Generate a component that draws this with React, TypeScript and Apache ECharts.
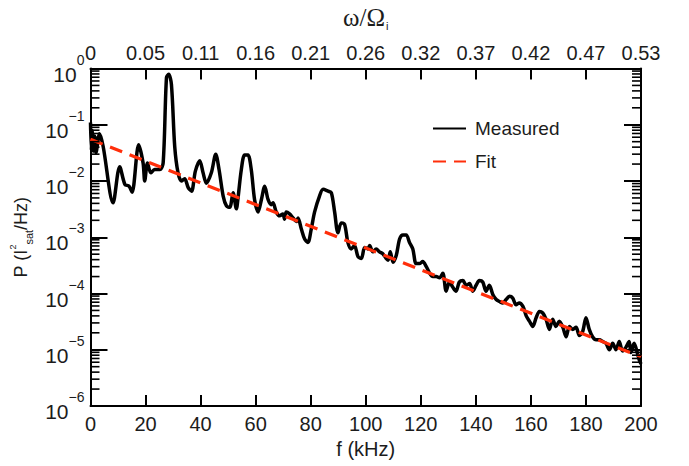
import React, { useEffect, useRef } from "react";
import * as echarts from "echarts";

// Measured spectrum (frequency in kHz, power in I_sat^2/Hz)
const freq = [
  0, 0.3, 0.6, 1.0, 1.5, 2.0, 3.3, 4.6, 8.2, 10.6, 12.5, 14.0, 15.1, 17.5, 19.1, 19.7, 20.7, 21.9, 23.3, 25.2,
  26.4, 27.6, 28.4, 29.4, 30.6, 31.8, 33.0, 34.2, 35.5, 36.7, 38.1, 39.7, 40.9, 42.1, 43.9, 45.5, 46.7, 48.2, 49.4,
  50.6, 51.8, 53.0, 53.6, 54.8, 56.0, 57.2, 58.4, 59.6, 60.9, 62.1, 63.3, 64.5, 65.7, 66.3, 67.5, 68.7, 69.9, 70.5,
  71.1, 72.3, 73.6, 74.8, 75.4, 76.6, 77.8, 79.0, 80.2, 81.4, 83.2, 84.5, 86.3, 87.5, 88.7, 89.9, 91.1, 92.3, 93.5,
  94.7, 95.9, 97.2, 98.4, 99.6, 100.8, 101.4, 102.6, 103.8, 105.0, 106.2, 107.4, 108.1, 108.9, 109.9, 111.1, 112.3,
  113.5, 114.7, 115.9, 117.1, 118.3, 119.5, 120.7, 122.0, 123.2, 124.4, 125.6, 126.8, 128.0, 129.2, 130.4, 131.6,
  132.8, 134.0, 135.3, 136.5, 137.7, 138.9, 140.1, 141.3, 142.5, 143.7, 144.9, 146.2, 147.4, 148.6, 149.8, 151.0,
  152.2, 153.4, 154.6, 155.8, 157.1, 158.3, 159.5, 160.7, 161.9, 163.1, 164.3, 165.5, 166.7, 167.9, 169.1, 170.3,
  171.6, 172.8, 174.0, 175.2, 176.4, 177.6, 178.8, 180.0, 181.2, 182.4, 183.7, 184.9, 186.1, 187.3, 188.5, 189.7,
  190.9, 192.1, 193.3, 194.5, 195.7, 196.3, 197.5, 198.8, 199.4, 200,
];
const power = [
  1.1e-1, 3.5e-2, 7.9e-2, 3.4e-2, 6.3e-2, 3.2e-2, 6.9e-2, 4.1e-2, 4.1e-3, 1.8e-2, 8.7e-3, 8.1e-3, 6.3e-3, 4.4e-2,
  2.1e-2, 1.0e-2, 2.1e-2, 1.4e-2, 1.6e-2, 1.6e-2, 2.1e-2, 6.9e-1, 7.9e-1, 5.2e-1, 4.1e-2, 1.4e-2, 1.0e-2, 1.1e-2,
  7.6e-3, 6.6e-3, 1.5e-2, 2.3e-2, 1.4e-2, 9.1e-3, 1.4e-2, 3.0e-2, 1.6e-2, 5.4e-3, 3.6e-3, 3.4e-3, 6.2e-3, 3.2e-3,
  5.0e-3, 1.6e-2, 2.9e-2, 2.9e-2, 1.6e-2, 4.7e-3, 2.8e-3, 4.7e-3, 8.1e-3, 4.7e-3, 3.8e-3, 4.1e-3, 2.8e-3, 2.4e-3,
  2.6e-3, 2.1e-3, 2.8e-3, 2.6e-3, 2.2e-3, 1.9e-3, 2.2e-3, 1.4e-3, 9.3e-4, 8.1e-4, 1.4e-3, 2.8e-3, 5.4e-3, 7.1e-3,
  6.6e-3, 6.2e-3, 2.8e-3, 1.2e-3, 1.8e-3, 1.7e-3, 8.1e-4, 6.2e-4, 7.1e-4, 4.5e-4, 4.2e-4, 6.6e-4, 6.2e-4, 7.1e-4,
  5.5e-4, 6.2e-4, 5.5e-4, 5.1e-4, 4.2e-4, 3.9e-4, 5.5e-4, 3.6e-4, 4.8e-4, 9.3e-4, 1.1e-3, 1.1e-3, 8.1e-4, 6.2e-4,
  3.4e-4, 3.4e-4, 3.7e-4, 3.0e-4, 2.3e-4, 2.0e-4, 2.0e-4, 1.9e-4, 2.3e-4, 1.1e-4, 1.6e-4, 1.3e-4, 1.1e-4, 1.6e-4,
  1.7e-4, 1.4e-4, 1.5e-4, 1.1e-4, 1.4e-4, 1.7e-4, 1.6e-4, 1.1e-4, 1.4e-4, 9.5e-5, 7.8e-5, 7.2e-5, 6.8e-5, 7.8e-5,
  8.9e-5, 8.3e-5, 6.3e-5, 6.8e-5, 5.9e-5, 4.0e-5, 3.2e-5, 2.6e-5, 3.7e-5, 4.8e-5, 4.5e-5, 3.5e-5, 2.3e-5, 3.5e-5,
  2.6e-5, 3.2e-5, 2.5e-5, 1.7e-5, 2.6e-5, 2.3e-5, 2.5e-5, 1.8e-5, 2.1e-5, 3.7e-5, 2.3e-5, 1.7e-5, 1.5e-5, 1.5e-5,
  1.4e-5, 1.3e-5, 1.0e-5, 1.3e-5, 1.0e-5, 1.4e-5, 9.5e-6, 1.1e-5, 1.4e-5, 8.9e-6, 1.3e-5, 8.3e-6, 6.5e-6, 5.6e-6,
];

// Exponential fit (straight on log axis)
const fitFreq = [0, 200];
const fitPower = [5.5e-2, 7.5e-6];

// Top axis tick labels (omega / Omega_i), one per bottom tick (0..200 step 20)
const topLabels = ["0", "0.05", "0.11", "0.16", "0.21", "0.26", "0.32", "0.37", "0.42", "0.47", "0.53"];

const SANS = "'Liberation Sans', Arial, Helvetica, sans-serif";
const SERIF = "'Liberation Serif', 'Times New Roman', serif";
const TXT = "#1c1c1c";

// log minor tick positions 2..9 x 10^k
const minorTicks: number[] = [];
for (let k = -6; k < 0; k++) {
  for (let m = 2; m <= 9; m++) minorTicks.push(m * Math.pow(10, k));
}

export default function App() {
  const ref = useRef<HTMLDivElement>(null);
  useEffect(() => {
    if (!ref.current) return;
    const chart = echarts.init(ref.current, null, { renderer: "svg" });
    const measured = freq.map((f, i) => [f, power[i]]);
    const fit = fitFreq.map((f, i) => [f, fitPower[i]]);
    const yLabel = (v: number) => {
      const e = Math.round(Math.log10(v));
      const s = e === 0 ? "0" : "\u2212" + String(-e);
      return `{h| }{b|10}{s|${s}}`;
    };
    const xAxisCommon = {
      type: "value",
      min: 0,
      max: 200,
      interval: 20,
      axisLine: { show: true, onZero: false, lineStyle: { color: "#000", width: 2 } },
      axisTick: { show: true, inside: true, length: 11, lineStyle: { color: "#000", width: 2 } },
      splitLine: { show: false },
    };
    const yAxisCommon = {
      type: "log",
      logBase: 10,
      min: 1e-6,
      max: 1,
      axisLine: { show: true, onZero: false, lineStyle: { color: "#000", width: 2 } },
      axisTick: { show: true, inside: true, length: 17, lineStyle: { color: "#000", width: 2 } },
      splitLine: { show: false },
    };
    chart.setOption({
      animation: false,
      backgroundColor: "#fff",
      grid: { left: 89, right: 48, top: 64, bottom: 60, containLabel: false },
      legend: {
        data: ["Measured", "Fit"],
        orient: "vertical",
        left: 427,
        top: 114,
        itemWidth: 33,
        itemHeight: 12,
        itemGap: 14,
        itemStyle: { opacity: 0 },
        textStyle: { fontFamily: SANS, fontSize: 19, color: TXT, padding: [0, 0, 0, 4] },
      },
      xAxis: [
        {
          ...xAxisCommon,
          position: "bottom",
          name: "f (kHz)",
          nameLocation: "middle",
          nameGap: 29,
          nameTextStyle: { fontFamily: SANS, fontSize: 20, color: TXT },
          axisLabel: { fontFamily: SANS, fontSize: 20, color: TXT, margin: 8 },
        },
        {
          ...xAxisCommon,
          position: "top",
          name: "{w|\u03c9/\u03a9}{i|i}",
          nameLocation: "middle",
          nameGap: 37,
          nameTextStyle: {
            rich: {
              w: { fontFamily: SERIF, fontSize: 25, color: TXT, lineHeight: 28 },
              i: { fontFamily: SANS, fontSize: 11, color: TXT, verticalAlign: "bottom", padding: [0, 0, 0, 1] },
            },
          },
          axisLabel: {
            fontFamily: SANS,
            fontSize: 20,
            color: TXT,
            margin: 6,
            formatter: (v: number) => topLabels[Math.round(v / 20)] ?? "",
          },
        },
      ],
      yAxis: [
        {
          ...yAxisCommon,
          position: "left",
          name: "{n|P (I}{sup|2}{sub|sat}{n|/Hz)}",
          nameLocation: "middle",
          nameRotate: 90,
          nameGap: 50,
          nameTextStyle: {
            rich: {
              n: { fontFamily: SANS, fontSize: 18, color: TXT, lineHeight: 26 },
              sup: { fontFamily: SANS, fontSize: 9, color: TXT, verticalAlign: "top" },
              sub: { fontFamily: SANS, fontSize: 11, color: TXT, verticalAlign: "bottom" },
            },
          },
          axisLabel: {
            margin: 6,
            formatter: yLabel,
            rich: {
              h: { fontSize: 1, lineHeight: 32 },
              b: { fontFamily: SANS, fontSize: 21, color: TXT, lineHeight: 20, verticalAlign: "bottom" },
              s: { fontFamily: SANS, fontSize: 14, color: TXT, lineHeight: 19, verticalAlign: "top" },
            },
          },
        },
        {
          ...yAxisCommon,
          position: "right",
          axisLabel: { show: false },
        },
      ],
      series: [
        {
          name: "Measured",
          type: "line",
          xAxisIndex: 0,
          yAxisIndex: 0,
          data: measured,
          showSymbol: false,
          symbol: "none",
          smooth: 0.3,
          lineStyle: { color: "#000", width: 3.5 },
          itemStyle: { color: "#000" },
          z: 3,
        },
        {
          name: "Fit",
          type: "line",
          xAxisIndex: 0,
          yAxisIndex: 0,
          data: fit,
          showSymbol: false,
          symbol: "none",
          lineStyle: { color: "#ff2e0a", width: 3.2, type: [13, 8] },
          itemStyle: { color: "#ff2e0a" },
          z: 4,
        },
        {
          type: "custom",
          xAxisIndex: 0,
          yAxisIndex: 0,
          silent: true,
          clip: false,
          data: minorTicks.map((v) => [0, v]),
          renderItem: (params: any, api: any) => {
            const v = api.value(1);
            const l = api.coord([0, v]);
            const r = api.coord([200, v]);
            const st = { stroke: "#000", lineWidth: 1.6 };
            return {
              type: "group",
              children: [
                { type: "line", shape: { x1: l[0], y1: l[1], x2: l[0] + 9, y2: l[1] }, style: st },
                { type: "line", shape: { x1: r[0] - 9, y1: r[1], x2: r[0], y2: r[1] }, style: st },
              ],
            };
          },
          z: 5,
        },
      ],
    });
    return () => chart.dispose();
  }, []);
  return (
    <div
      ref={ref}
      style={{ position: "fixed", left: 0, top: 0, width: 689, height: 466, background: "#fff" }}
    />
  );
}
